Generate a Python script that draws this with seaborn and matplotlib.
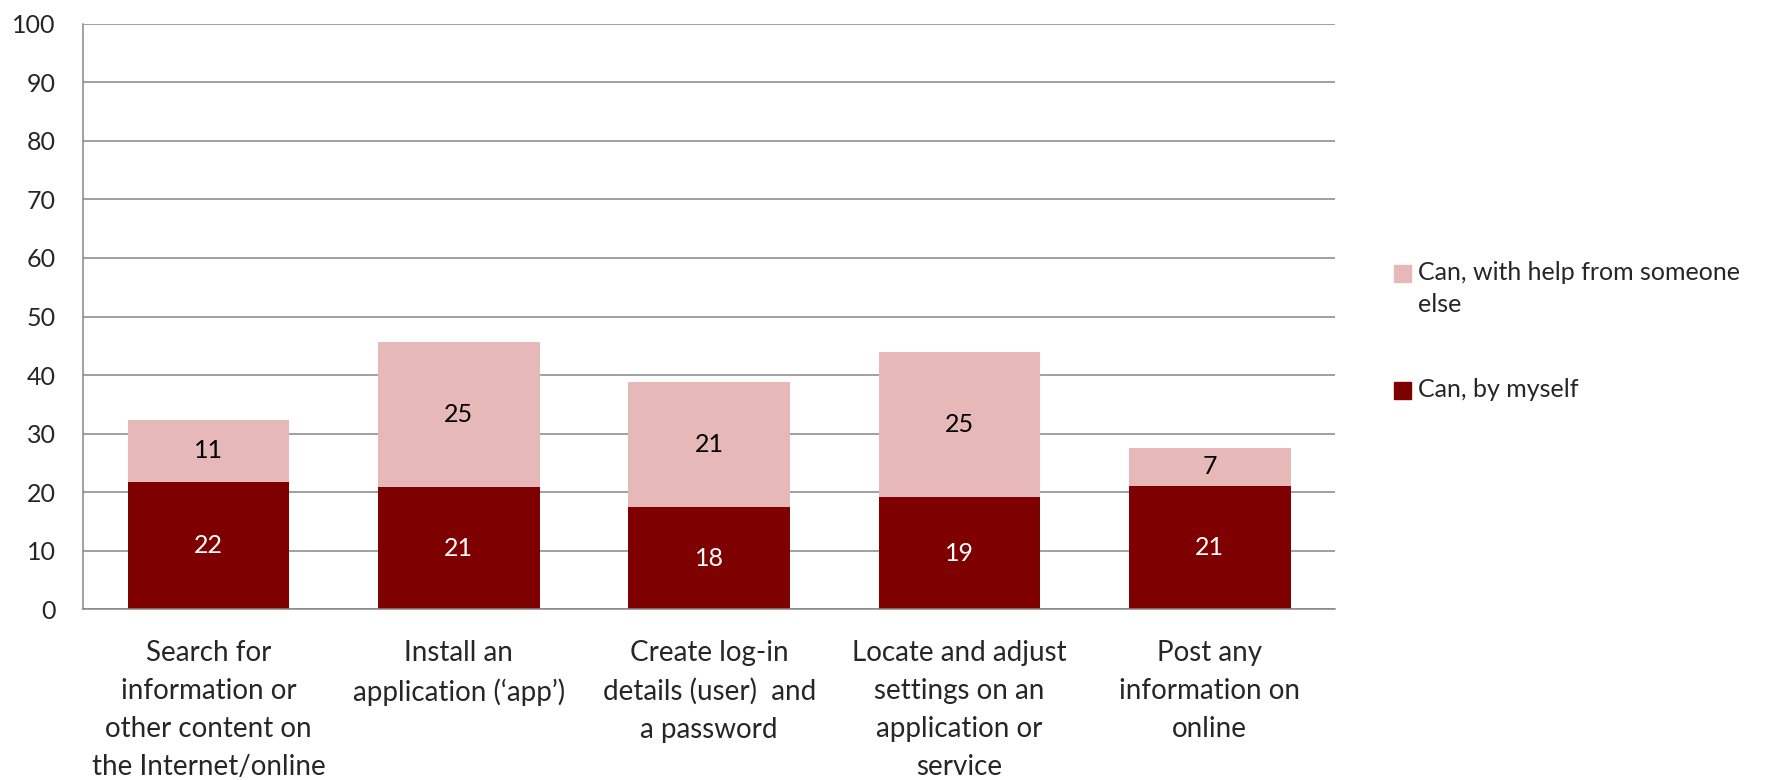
#Stacked bar chart: digital skills, by myself vs with help.

import pandas as pd
import seaborn as sns
from matplotlib import pyplot as plt
from matplotlib.patches import Rectangle

tasks = ["Search for\ninformation or\nother content on\nthe Internet/online",
         "Install an\napplication (\u2018app\u2019)",
         "Create log-in\ndetails (user)  and\na password",
         "Locate and adjust\nsettings on an\napplication or\nservice",
         "Post any\ninformation on\nonline"]

by_myself = [21.8, 20.9, 17.5, 19.1, 21.0]
with_help = [10.6, 24.7, 21.4, 24.8, 6.6]

by_myself_labels = ["22", "21", "18", "19", "21"]
with_help_labels = ["11", "25", "21", "25", "7"]

series_names = ["Can, with help from someone\nelse", "Can, by myself"]

DARK = "#7f0000"
LIGHT = "#e6b8b7"
GRID = "#868686"
W, H = 1773, 780

sns.set_style("white")
plt.rcParams['font.family'] = ['Lato', 'DejaVu Sans']

df = pd.DataFrame({"task": tasks, "myself": by_myself, "help": with_help})
df["total"] = df["myself"] + df["help"]

fig = plt.figure(figsize=(W / 100, H / 100), dpi=100)
ax = fig.add_axes([83.3 / W, 1 - 609.3 / H, (1335 - 83.3) / W, (609.3 - 23.7) / H])

sns.barplot(data=df, x="task", y="total", color=LIGHT, saturation=1,
            width=0.646, errorbar=None, ax=ax, zorder=2, linewidth=0,
            edgecolor="none")
sns.barplot(data=df, x="task", y="myself", color=DARK, saturation=1,
            width=0.646, errorbar=None, ax=ax, zorder=2, linewidth=0,
            edgecolor="none")

for i, row in df.iterrows():
    ax.text(i, row["myself"] / 2, by_myself_labels[i], ha="center", va="center",
            color="white", fontsize=18, zorder=3)
    ax.text(i, row["myself"] + row["help"] / 2, with_help_labels[i], ha="center",
            va="center", color="black", fontsize=18, zorder=3)

ax.set_ylim(0, 100)
ax.set_yticks(range(0, 101, 10))
ax.set_xlim(-0.5, len(tasks) - 0.5)
ax.yaxis.grid(True, color=GRID, lw=1.1)
ax.set_axisbelow(True)
ax.set_xlabel("")
ax.set_ylabel("")

for side in ["top", "right"]:
    ax.spines[side].set_visible(False)
for side in ["left", "bottom"]:
    ax.spines[side].set_color(GRID)
    ax.spines[side].set_linewidth(1.1)

ax.tick_params(axis="x", length=0, pad=22, labelsize=20)
ax.tick_params(axis="y", length=0, pad=20, labelsize=18)
for lab in ax.get_xticklabels():
    lab.set_linespacing(1.57)

# legend drawn by hand so the square sits on the first text line
colors = [LIGHT, DARK]
text_y = [261, 378]
for name, col, ty in zip(series_names, colors, text_y):
    fig.add_artist(Rectangle((1394 / W, 1 - (ty + 21) / H), 17 / W, 17 / H,
                             transform=fig.transFigure, color=col))
    fig.text(1418 / W, 1 - ty / H, name, ha="left", va="top", fontsize=18,
             linespacing=1.45)

fig.savefig("out.png", dpi=100)
